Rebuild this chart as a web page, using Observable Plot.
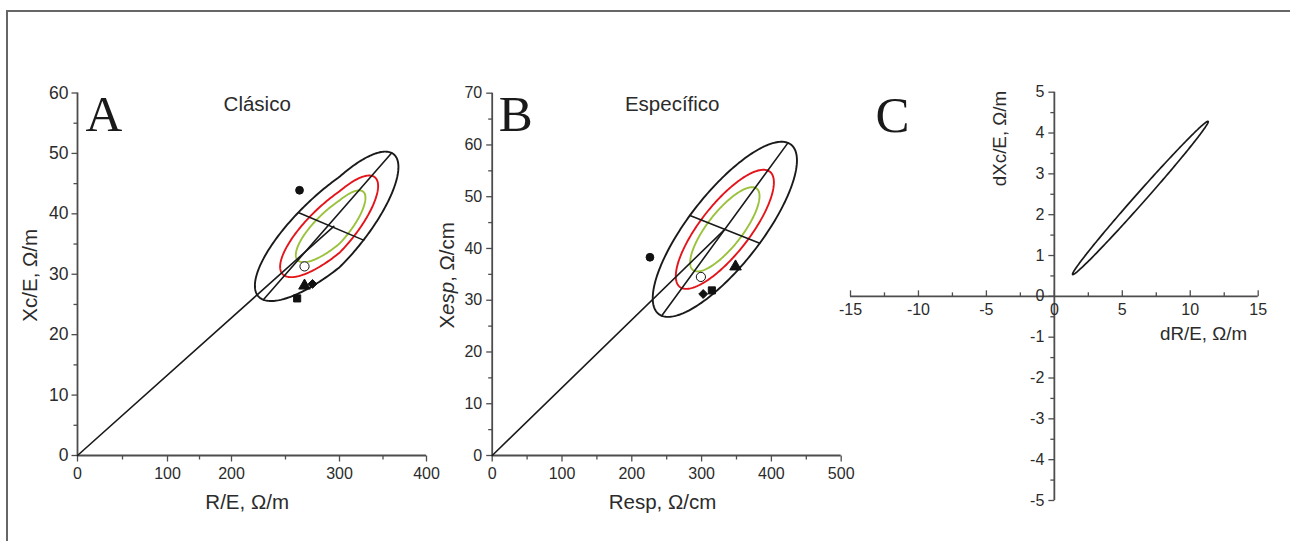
<!DOCTYPE html>
<html><head><meta charset="utf-8">
<script src="https://cdn.jsdelivr.net/npm/d3@7"></script>
<script src="https://cdn.jsdelivr.net/npm/@observablehq/plot@0.6"></script>
<style>
html,body{margin:0;padding:0;background:#fff;}
#wrap{position:relative;width:1290px;height:541px;overflow:hidden;}
#frame{position:absolute;left:6px;top:10px;width:1300px;height:560px;border-top:2px solid #666;border-left:2px solid #666;}
.panel{position:absolute;top:0;}
</style></head><body><div id="wrap"><div id="frame"></div></div>
<script>
// ---------- data ----------
const levels = [95, 75, 50];                 // tolerance ellipses (%)
const levelColors = ["#1a1a1a", "#e3151b", "#9ac23c"];
const groups = ["g1", "g2", "g3", "g4", "g5"];
const groupSymbols = ["circle", "circle", "triangle", "diamond2", "square"];
const groupFill = ["#111", "#fff", "#111", "#111", "#111"];

// Panel A (clásico): mean vector, semi-major diameter, conjugate semi-diameter (95%)
const aCenter = [294.7, 37.93];
const aMajor = [65.2, 12.15];
const aConj = [32.9, -2.28];
const aR  = [263.0, 267.6, 267.6, 275.0, 260.8];
const aXc = [43.9, 31.3, 28.1, 28.4, 26.0];
const aXTicks = [0, 100, 200, 300, 400];
const aXMinor = [50, 150, 250, 350];
const aYTicks = [0, 10, 20, 30, 40, 50, 60];
const aYMinor = [5, 15, 25, 35, 45, 55];

// Panel B (específico)
const bCenter = [333.3, 43.7];
const bMajor = [90.4, 16.7];
const bConj = [50.0, -2.69];
const bR  = [226.0, 299.0, 348.6, 302.3, 314.7];
const bXc = [38.3, 34.5, 36.5, 31.2, 31.9];
const bXTicks = [0, 100, 200, 300, 400, 500];
const bXMinor = [50, 150, 250, 350, 450];
const bYTicks = [0, 10, 20, 30, 40, 50, 60, 70];
const bYMinor = [5, 15, 25, 35, 45, 55, 65];

// Panel C (differences)
const cCenter = [6.33, 2.41];
const cMajor = [4.985, 1.875];
const cConj = [0.276, -0.081];
const cXTicks = [-15, -10, -5, 0, 5, 10, 15];
const cXMinor = [-12.5, -7.5, -2.5, 2.5, 7.5, 12.5];
const cYTicks = [-5, -4, -3, -2, -1, 0, 1, 2, 3, 4, 5];
const cYMinor = [-4.5, -3.5, -2.5, -1.5, -0.5, 0.5, 1.5, 2.5, 3.5, 4.5];

// ---------- helpers ----------
const AX = "#4d4d4d", TXT = "#2b2b2b";
const SANS = "Liberation Sans, Arial, sans-serif";
const SERIF = "Liberation Serif, Times New Roman, serif";
const fmt = d => String(d);
const kScale = p => Math.sqrt(-2 * Math.log(1 - p / 100)) / Math.sqrt(-2 * Math.log(0.05));

function ellipse(c, u, v, k) {
  const pts = [];
  for (let i = 0; i <= 240; ++i) {
    const t = i / 240 * 2 * Math.PI;
    pts.push([c[0] + k * (u[0] * Math.cos(t) + v[0] * Math.sin(t)),
              c[1] + k * (u[1] * Math.cos(t) + v[1] * Math.sin(t))]);
  }
  return pts;
}
const tickSym = (dx, dy) => ({draw(ctx) { ctx.moveTo(0, 0); ctx.lineTo(dx, dy); }});

function axes(o) {
  const fs = o.fontSize || 16;
  return [
    Plot.ruleY([o.xAt], {x1: o.xExt[0], x2: o.xExt[1], stroke: AX, strokeWidth: 1.8}),
    Plot.ruleX([o.yAt], {y1: o.yExt[0], y2: o.yExt[1], stroke: AX, strokeWidth: 1.8}),
    Plot.dot(o.xTicks, {x: d => d, y: o.xAt, symbol: tickSym(0, o.xDir * 6), stroke: AX, strokeWidth: 1.3, fill: "none"}),
    Plot.dot(o.xMinor, {x: d => d, y: o.xAt, symbol: tickSym(0, o.xDir * 4), stroke: AX, strokeWidth: 1.3, fill: "none"}),
    Plot.dot(o.yTicks, {x: o.yAt, y: d => d, symbol: tickSym(-6, 0), stroke: AX, strokeWidth: 1.3, fill: "none"}),
    Plot.dot(o.yMinor, {x: o.yAt, y: d => d, symbol: tickSym(-4, 0), stroke: AX, strokeWidth: 1.3, fill: "none"}),
    Plot.text(o.xTicks, {x: d => d, y: o.xAt, text: fmt, dy: o.xLabDy, textAnchor: "middle", lineAnchor: "middle", fill: TXT, fontSize: fs, fontFamily: SANS}),
    Plot.text(o.yTicks, {x: o.yAt, y: d => d, text: fmt, dx: o.yLabDx, textAnchor: "end", lineAnchor: "middle", fill: TXT, fontSize: o.yFontSize || fs, fontFamily: SANS})
  ];
}

function ellipseMarks(c, u, v) {
  const m = [];
  levels.forEach((p, i) => {
    m.push(Plot.line(ellipse(c, u, v, kScale(p)), {x: d => d[0], y: d => d[1], stroke: levelColors[i], strokeWidth: 1.9}));
  });
  m.push(Plot.line([[0, 0], c], {x: d => d[0], y: d => d[1], stroke: "#1a1a1a", strokeWidth: 1.6}));
  m.push(Plot.line([[c[0] - u[0], c[1] - u[1]], [c[0] + u[0], c[1] + u[1]]], {x: d => d[0], y: d => d[1], stroke: "#1a1a1a", strokeWidth: 1.6}));
  m.push(Plot.line([[c[0] - v[0], c[1] - v[1]], [c[0] + v[0], c[1] + v[1]]], {x: d => d[0], y: d => d[1], stroke: "#1a1a1a", strokeWidth: 1.6}));
  return m;
}

function pointMarks(R, X) {
  const rows = groups.map((g, i) => ({g, R: R[i], X: X[i], sym: groupSymbols[i], fill: groupFill[i]}));
  return [Plot.dot(rows, {x: "R", y: "X", symbol: d => d.sym, fill: d => d.fill, stroke: "#111", strokeWidth: 1,
    r: d => d.sym === "circle" ? (d.fill === "#fff" ? 4.6 : 3.9) : (d.sym === "triangle" ? 4.3 : 4.0)})];
}

const label = (s, o) => Plot.text([s], {textAnchor: "middle", lineAnchor: "middle", fontSize: 20.5, fontFamily: SANS, fill: TXT, ...o});
const bigLetter = (s, o) => Plot.text([s], {frameAnchor: "top-left", textAnchor: "start", lineAnchor: "middle", fontSize: 51, fontFamily: SERIF, fill: "#1a1a1a", ...o});

function place(svg, left) {
  svg.classList.add("panel");
  svg.style.left = left + "px";
  svg.style.position = "absolute";
  svg.style.top = "0px";
  document.getElementById("wrap").appendChild(svg);
}

const common = {height: 541, style: {background: "transparent", overflow: "visible"},
  symbol: {type: "identity"}, color: {type: "identity"}, r: {type: "identity"}};

// ---------- Panel A ----------
// the printed R/E axis of the original is non-uniform: tick spacing warps the scale
const aWarp = d3.scaleLinear().domain(aXTicks).range([0, 90, 154, 262, 349]);
const plotA = Plot.plot({
  ...common, width: 440,
  marginLeft: 77, marginRight: 14, marginTop: 92.5, marginBottom: 86,
  x: {transform: aWarp, domain: [0, 349], axis: null},
  y: {domain: [0, 60], axis: null},
  marks: [
    ...axes({xAt: 0, yAt: 0, xExt: [0, 400], yExt: [0, 60], xTicks: aXTicks, xMinor: aXMinor, yTicks: aYTicks, yMinor: aYMinor, xDir: 1, xLabDy: 18, yLabDx: -9, yFontSize: 17.5}),
    ...ellipseMarks(aCenter, aMajor, aConj),
    ...pointMarks(aR, aXc),
    bigLetter("A", {dx: 8, dy: 22}),
    label("Clásico", {frameAnchor: "top-left", dx: 179.7, dy: 11.5}),
    label("R/E, Ω/m", {frameAnchor: "bottom-left", dx: 169.7, dy: 46.7}),
    label("Xc/E, Ω/m", {frameAnchor: "left", dx: -47, dy: 1, rotate: -90})
  ]
});
place(plotA, 0);

// ---------- Panel B ----------
const plotB = Plot.plot({
  ...common, width: 430,
  marginLeft: 61.7, marginRight: 19.3, marginTop: 92.7, marginBottom: 86,
  x: {domain: [0, 500], axis: null},
  y: {domain: [0, 70], axis: null},
  marks: [
    ...axes({xAt: 0, yAt: 0, xExt: [0, 500], yExt: [0, 70], xTicks: bXTicks, xMinor: bXMinor, yTicks: bYTicks, yMinor: bYMinor, xDir: 1, xLabDy: 18, yLabDx: -10}),
    ...ellipseMarks(bCenter, bMajor, bConj),
    ...pointMarks(bR, bXc),
    bigLetter("B", {dx: 6.6, dy: 21.5}),
    label("Específico", {frameAnchor: "top-left", dx: 180, dy: 11.6}),
    label("Resp, Ω/cm", {frameAnchor: "bottom-left", dx: 170.3, dy: 46.7}),
    label("Xesp, Ω/cm", {frameAnchor: "left", dx: -44.7, dy: 1, rotate: -90})
  ]
});
d3.select(plotB).selectAll("text").filter(function() { return this.textContent === "Xesp, Ω/cm"; }).each(function() {
  const t = d3.select(this);
  t.text(null);
  t.append("tspan").text("X");
  t.append("tspan").attr("font-style", "italic").text("esp");
  t.append("tspan").text(", Ω/cm");
});
place(plotB, 430);

// ---------- Panel C ----------
const plotC = Plot.plot({
  ...common, width: 460,
  marginLeft: 20, marginRight: 32.3, marginTop: 91.7, marginBottom: 41,
  x: {domain: [-15, 15], axis: null},
  y: {domain: [-5, 5], axis: null},
  marks: [
    ...axes({xAt: 0, yAt: 0, xExt: [-15, 15], yExt: [-5, 5], xTicks: cXTicks, xMinor: cXMinor, yTicks: cYTicks, yMinor: cYMinor, xDir: -1, xLabDy: 14, yLabDx: -10}),
    Plot.line(ellipse(cCenter, cMajor, cConj, 1), {x: d => d[0], y: d => d[1], stroke: "#1a1a1a", strokeWidth: 1.7}),
    bigLetter("C", {dx: 25, dy: 23.3}),
    label("dR/E, Ω/m", {frameAnchor: "top-left", dx: 353, dy: 241.3, fontSize: 18.8}),
    label("dXc/E, Ω/m", {frameAnchor: "top-left", dx: 149, dy: 46.3, rotate: -90, fontSize: 18.8})
  ]
});
place(plotC, 830);
</script></body></html>
